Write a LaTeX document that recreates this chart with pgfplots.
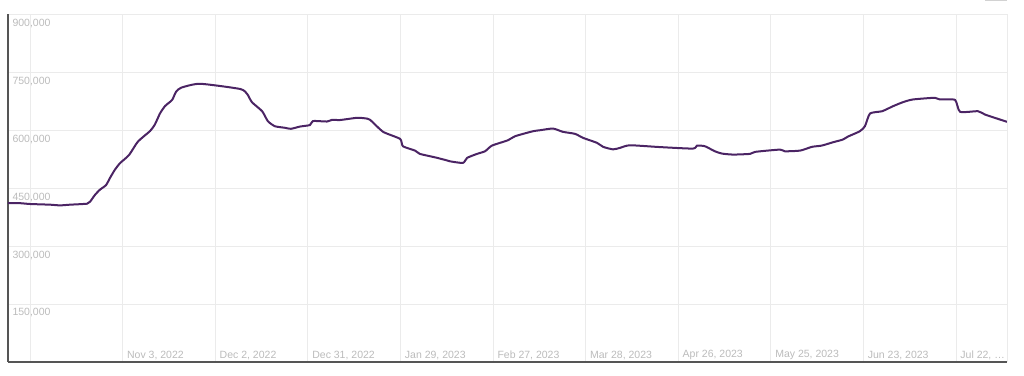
\documentclass[border=0pt]{standalone}
\usepackage{pgfplots}
\pgfplotsset{compat=1.18}
\usepackage{fontspec}
\setmainfont{Liberation Sans}
\definecolor{lineC}{HTML}{4B2464}
\definecolor{gridC}{HTML}{EBEBEB}
\definecolor{labC}{HTML}{BBBBBB}
\definecolor{axC}{HTML}{555555}
\begin{document}
\begin{tikzpicture}
\begin{axis}[
  scale only axis,
  width=999pt, height=347.5pt,
  xmin=-6.9, xmax=306, ymin=0, ymax=900000,
  axis lines*=left,
  axis line style={axC, line width=1.3pt, -},
  grid=major,
  major grid style={gridC, line width=0.8pt},
  major tick length=0pt,
  scaled y ticks=false,
  xtick={0,29,58,87,116,145,174,203,232,261,290},
  xticklabels={{},{Nov 3, 2022},{Dec 2, 2022},{Dec 31, 2022},{Jan 29, 2023},{Feb 27, 2023},{Mar 28, 2023},{Apr 26, 2023},{May 25, 2023},{Jun 23, 2023},{Jul 22, \ldots}},
  ytick={150000,300000,450000,600000,750000,900000},
  /pgf/number format/.cd, fixed, 1000 sep={,}, assume math mode=true,
  /pgfplots/.cd,
  tick label style={font=\fontsize{10.5}{12}\selectfont, text=labC},
  xticklabel style={anchor=south west, xshift=1pt, yshift=-1pt},
  yticklabel style={anchor=north west, xshift=1pt, yshift=-1pt},
  clip=false,
]
\addplot[lineC, line width=2pt, line join=round, smooth, tension=0.35] coordinates {
(-6.9,411800) (-3.1,411300) (0,409200) (6.3,407400) (9.4,405600) (12.5,407400)
(17.9,410000) (18.8,415200) (20.4,433400) (21.9,446300) (23.8,458000) (25.1,477500)
(26.6,498200) (28.2,515100) (31.0,535900) (33.8,570900) (37.6,598200) (39.1,615000)
(40.7,643600) (42.3,663000) (44.5,678600) (45.7,699400) (47.3,710300) (53.2,720600)
(65.8,707100) (68.0,694200) (69.5,672900) (72.7,649500) (74.5,623600) (76.7,610600)
(79.9,606500) (81.7,603900) (84.6,609800) (87.7,613700) (88.6,624100) (93.0,622800)
(94.6,627200) (97.1,626700) (102.4,632400) (104.9,631100) (106.5,627200) (110.6,596100)
(115.9,577900) (116.8,558700) (120.6,547500) (122.1,539000) (126.8,530100) (130.0,523400)
(131.5,519800) (135.6,515600) (136.9,528600) (140.0,539000) (142.5,545700) (144.7,560500)
(149.7,574300) (151.9,584700) (157.5,597600) (159.7,600200) (163.8,604600) (166.9,596100)
(170.7,590900) (173.2,580500) (177.6,567500) (179.5,557200) (182.6,550700) (184.8,554600)
(187.9,561300) (197.3,556600) (207.6,552700) (208.9,560500) (211.4,558700) (214.5,545700)
(216.7,539800) (220.2,537200) (225.5,539000) (227.1,544200) (234.9,550100) (236.4,545700)
(241.2,547500) (244.9,557200) (248.0,560500) (251.5,569100) (254.6,576100) (256.2,583900)
(259.9,597600) (261.5,610600) (263.1,643600) (266.9,649500) (270.3,662500) (273.4,672900)
(276.5,679900) (283.4,684300) (285.0,679900) (289.7,679100) (291.3,648000) (296.9,649500)
(299.1,640900) (306.0,622000)
};
\draw[gridC, line width=0.8pt] (rel axis cs:1,0) -- (rel axis cs:1,1);
\coordinate (sw) at (rel axis cs:0,0);
\coordinate (ne) at (rel axis cs:1,1);
\end{axis}
\pgfresetboundingbox
\path ([shift={(-8pt,-14pt)}]sw) rectangle ([shift={(17pt,14.5pt)}]ne);
\fill[gray!35] ([shift={(-22pt,14.5pt)}]ne) rectangle ([shift={(0pt,13.2pt)}]ne);
\end{tikzpicture}
\end{document}
